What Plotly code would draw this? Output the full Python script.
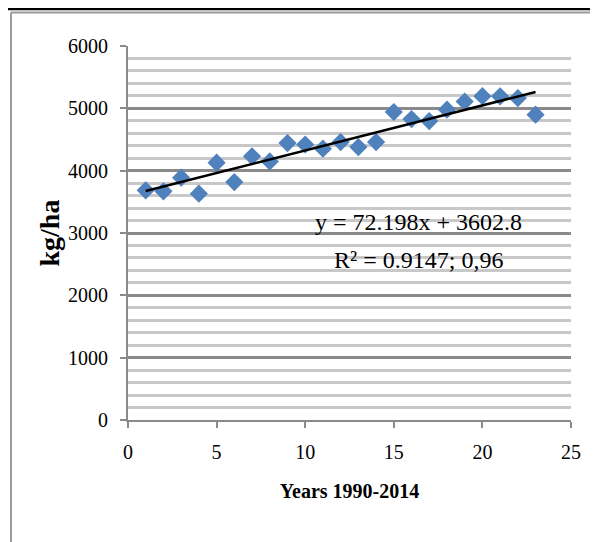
import plotly.graph_objects as go

# Data
years_idx = list(range(1, 24))
yield_kg_ha = [3684, 3668, 3888, 3631, 4128, 3817, 4230, 4149, 4443, 4420,
               4353, 4459, 4379, 4459, 4941, 4827, 4796, 4979, 5109, 5195,
               5193, 5165, 4899]
trend_slope = 72.198
trend_intercept = 3602.8
eq_text = "y = 72.198x + 3602.8"
r2_text = "R\u00b2 = 0.9147; 0,96"
x_title = "Years 1990-2014"
y_title = "kg/ha"

trend_x = [years_idx[0], years_idx[-1]]
trend_y = [trend_slope * v + trend_intercept for v in trend_x]

FONT = "Liberation Serif"
AXIS_GRAY = "#8a8a8a"

fig = go.Figure()
fig.add_trace(go.Scatter(
    x=years_idx, y=yield_kg_ha, mode="markers",
    marker=dict(symbol="diamond", size=14, color="#4F81BD", line=dict(width=0)),
    showlegend=False, hoverinfo="x+y"))
fig.add_trace(go.Scatter(
    x=trend_x, y=trend_y, mode="lines",
    line=dict(color="black", width=2.5), showlegend=False))

# page has an 8px body margin, so the figure is 8px smaller and shifted
OFF = 8
W, H = 598 - OFF, 542 - OFF
ml, mr, mt, mb = 120, 27, 38, 122
pw, ph = W - ml - mr, H - mt - mb


def px_x(p):
    return (p - OFF - ml) / pw


def px_y(p):
    return (H - mb - (p - OFF)) / ph


shapes = [
    dict(type="line", xref="paper", yref="paper", x0=px_x(0), x1=px_x(610),
         y0=px_y(9), y1=px_y(9), line=dict(color="black", width=2.5)),
    dict(type="line", xref="paper", yref="paper", x0=px_x(11), x1=px_x(610),
         y0=px_y(12.5), y1=px_y(12.5), line=dict(color="#9a9a9a", width=2)),
    dict(type="line", xref="paper", yref="paper", x0=px_x(11), x1=px_x(11),
         y0=px_y(12.5), y1=px_y(560), line=dict(color="#9a9a9a", width=2)),
]

fig.update_layout(
    width=W, height=H,
    margin=dict(l=ml, r=mr, t=mt, b=mb),
    paper_bgcolor="white", plot_bgcolor="white",
    font=dict(family=FONT, color="black", size=20),
    shapes=shapes,
    annotations=[
        dict(text=eq_text, xref="paper", yref="paper", x=px_x(418), y=px_y(222),
             showarrow=False, font=dict(family=FONT, size=24, color="black"),
             xanchor="center", yanchor="middle"),
        dict(text=r2_text, xref="paper", yref="paper", x=px_x(418), y=px_y(260),
             showarrow=False, font=dict(family=FONT, size=24, color="black"),
             xanchor="center", yanchor="middle"),
    ],
)

fig.update_xaxes(
    range=[0, 25], dtick=5, tick0=0, showgrid=False, zeroline=False,
    showline=True, linecolor=AXIS_GRAY, linewidth=2,
    ticks="outside", ticklen=6, tickwidth=2, tickcolor=AXIS_GRAY,
    ticklabelstandoff=7,
    tickfont=dict(family=FONT, size=20, color="black"),
    title=dict(text="<b>" + x_title + "</b>", standoff=22,
               font=dict(family=FONT, size=20, color="black")),
)
fig.update_yaxes(
    range=[0, 6000], dtick=1000, tick0=0, zeroline=False,
    showgrid=True, gridcolor="#8a8a8a", gridwidth=2.5,
    minor=dict(dtick=200, showgrid=True, gridcolor="#c8c8c8", gridwidth=2.5),
    showline=True, linecolor=AXIS_GRAY, linewidth=2,
    ticks="outside", ticklen=6, tickwidth=2, tickcolor=AXIS_GRAY,
    ticklabelstandoff=8,
    tickfont=dict(family=FONT, size=20, color="black"),
    title=dict(text="<b>" + y_title + "</b>", standoff=0,
               font=dict(family=FONT, size=28, color="black")),
)

fig.write_html("out.html")
